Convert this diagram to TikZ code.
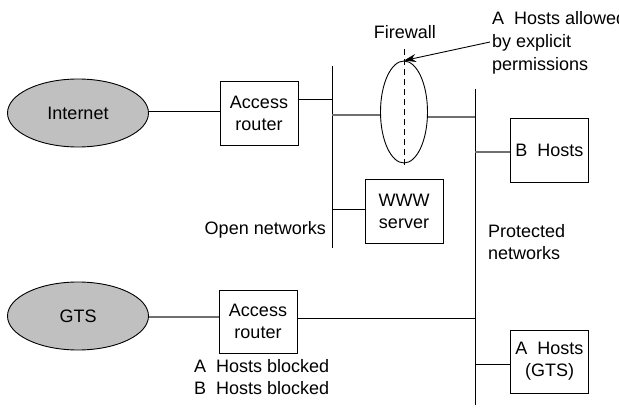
\documentclass[tikz,border=0pt]{standalone}
\usepackage{fontspec}
\setmainfont{Liberation Sans}
\usetikzlibrary{shapes.geometric,arrows.meta}
\definecolor{cloudgray}{RGB}{192,192,192}
\definecolor{wiregray}{RGB}{112,112,112}
\tikzset{
  txt/.style={font=\fontsize{18}{22}\selectfont, inner sep=0pt},
  cloud/.style={ellipse, draw, line width=0.9pt, fill=cloudgray, txt, minimum width=141pt, minimum height=68pt},
  devbox/.style={rectangle, draw, line width=0.9pt, fill=white, txt, align=center, minimum width=78pt, minimum height=64pt},
  wire/.style={draw, line width=1pt},
  gwire/.style={draw=wiregray, line width=1.1pt},
}
\begin{document}
\begin{tikzpicture}[x=1pt,y=-1pt]
\useasboundingbox (0,0) rectangle (619,409);
% nodes
\node[cloud] (inet) at (78,113) {Internet};
\node[devbox] (r1) at (259,113) {Access\\router};
\node[cloud] (gts) at (78,316) {GTS};
\node[devbox, minimum height=63pt] (r2) at (258,321.5) {Access\\router};
\node[devbox] (www) at (404,211.5) {WWW\\server};
\node[devbox] (bh) at (549.5,150) {B\ \ Hosts};
\node[devbox, minimum height=63pt] (ah) at (549.5,361.5) {A\ \ Hosts\\(GTS)};
\node[ellipse, draw, line width=0.9pt, minimum width=47pt, minimum height=102pt, inner sep=0pt] (fw) at (404,112) {};
% backbones
\coordinate (ot) at (332,66);
\coordinate (ob) at (332,248);
\coordinate (pt) at (475,89);
\coordinate (pb) at (475,405);
\draw[wire] (ot) -- (ob);
\draw[wire] (pt) -- (pb);
% dashed line through firewall
\coordinate (dt) at (404,49);
\coordinate (db) at (404,167);
\draw[line width=0.9pt, dash pattern=on 6pt off 4pt] (dt) -- (db);
% links
\draw[wire] (inet.east |- 0,112) -- (r1.west |- 0,112);
\draw[wire] (r1.east |- 0,100) -- (ot |- 0,100);
\draw[gwire] (ot |- 0,115) -- (fw.west |- 0,115);
\draw[gwire] (fw.east |- 0,117) -- (pt |- 0,117);
\draw[gwire] (pt |- 0,152) -- (bh.west |- 0,152);
\draw[wire] (ot |- 0,210) -- (www.west |- 0,210);
\draw[gwire] (gts.east |- 0,317) -- (r2.west |- 0,317);
\draw[wire] (r2.east |- 0,318) -- (pt |- 0,318);
\draw[wire] (pt |- 0,364) -- (ah.west |- 0,364);
% labels
\node[txt] (fwl) at (405,32) {Firewall};
\node[txt, anchor=east] (onl) at (326,230) {Open networks};
\node[txt, anchor=west, align=left] (pnl) at (488,242.5) {Protected\\networks};
\node[txt, anchor=west, align=left] (abl) at (194,377) {A\ \ Hosts blocked\\B\ \ Hosts blocked};
\node[txt, anchor=west, align=left, font=\fontsize{18}{23}\selectfont] (ahl) at (492,43) {A\ \ Hosts allowed\\by explicit\\permissions};
\coordinate (arrs) at (490,42);
\draw[line width=0.9pt, -{Stealth[length=12pt,width=8pt]}] (arrs) -- (fw.north);
\end{tikzpicture}
\end{document}
